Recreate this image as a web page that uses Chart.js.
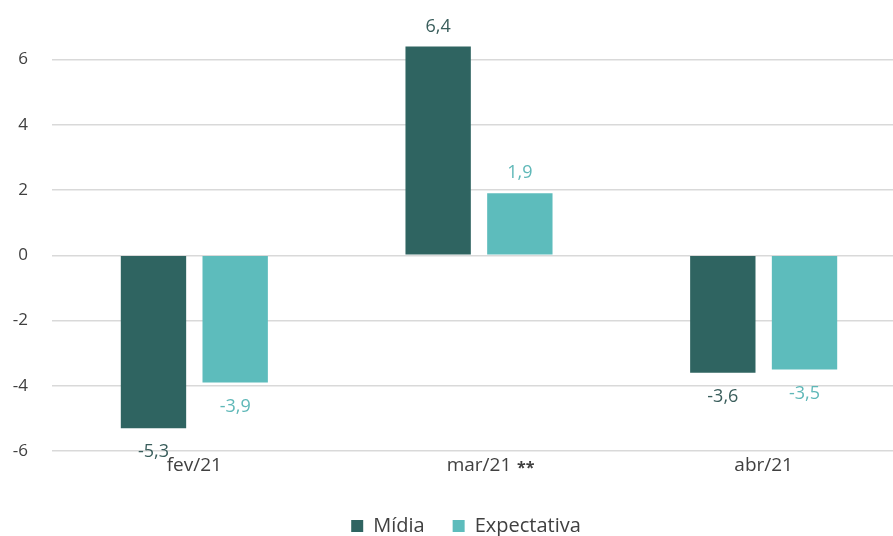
<!DOCTYPE html>
<html>
<head>
<meta charset="utf-8">
<script src="https://cdn.jsdelivr.net/npm/chart.js@4"></script>
<style>
  html, body { margin: 0; padding: 0; background: #fff; overflow: hidden; }
  #wrap { width: 906px; height: 536px; }
</style>
</head>
<body>
<div id="wrap"><canvas id="chart"></canvas></div>
<script>
const categories = ['fev/21', 'mar/21', 'abr/21'];
const midia = [-5.3, 6.4, -3.6];
const expectativa = [-3.9, 1.9, -3.5];
const yTicks = [-6, -4, -2, 0, 2, 4, 6];

const darkTeal = '#2f6461';
const lightTeal = '#5dbcbc';

// valores em cima/embaixo das barras
const valueLabels = {
  id: 'valueLabels',
  afterLayout(chart) {
    // legenda um pouco à direita, como no original
    chart.legend.left += 13;
    chart.legend.right += 13;
  },
  afterDatasetsDraw(chart) {
    const ctx = chart.ctx;
    ctx.save();
    ctx.font = '18px "Open Sans", sans-serif';
    ctx.textAlign = 'center';
    chart.data.datasets.forEach((ds, i) => {
      const meta = chart.getDatasetMeta(i);
      ctx.fillStyle = i === 0 ? '#3a5e5c' : '#5fb8b8';
      meta.data.forEach((bar, j) => {
        const v = ds.data[j];
        const txt = v.toFixed(1).replace('.', ',');
        if (v >= 0) {
          ctx.textBaseline = 'bottom';
          ctx.fillText(txt, bar.x, bar.y - 11);
        } else {
          ctx.textBaseline = 'top';
          ctx.fillText(txt, bar.x, bar.y + 15);
        }
      });
    });
    // asteriscos de mar/21
    const x = chart.scales.x.getPixelForValue(1);
    ctx.fillStyle = '#404040';
    ctx.font = 'bold 16px "Open Sans", sans-serif';
    ctx.textAlign = 'left';
    ctx.textBaseline = 'top';
    ctx.fillText('**', x + 38, chart.chartArea.bottom + 9);
    ctx.restore();
  }
};

new Chart(document.getElementById('chart'), {
  type: 'bar',
  data: {
    labels: categories,
    datasets: [
      { label: 'Mídia', data: midia, backgroundColor: darkTeal },
      { label: 'Expectativa', data: expectativa, backgroundColor: lightTeal }
    ]
  },
  options: {
    responsive: true,
    maintainAspectRatio: false,
    animation: false,
    layout: { padding: { top: 27, left: 0, right: 0, bottom: -10 } },
    categoryPercentage: 0.574,
    barPercentage: 0.8,
    scales: {
      x: {
        grid: { display: false },
        border: { display: false },
        ticks: { color: '#404040', font: { family: 'Open Sans', size: 19 }, padding: -5 },
        afterFit(axis) { axis.height = 37; axis.paddingLeft = 0; axis.paddingRight = 0; }
      },
      y: {
        min: -6,
        max: 7,
        afterBuildTicks(axis) { axis.ticks = yTicks.map(v => ({ value: v })); },
        afterFit(axis) { axis.width = 52; axis.paddingTop = 0; axis.paddingBottom = 0; },
        grid: { color: '#d9d9d9', lineWidth: 1.5, drawTicks: false },
        border: { display: false },
        ticks: { color: '#404040', font: { family: 'Open Sans', size: 17 }, padding: 24 }
      }
    },
    plugins: {
      legend: {
        position: 'bottom',
        labels: {
          color: '#404040',
          font: { family: 'Open Sans', size: 20 },
          boxWidth: 12,
          boxHeight: 12,
          padding: 28
        }
      },
      tooltip: { enabled: false }
    }
  },
  plugins: [valueLabels]
});
</script>
</body>
</html>
